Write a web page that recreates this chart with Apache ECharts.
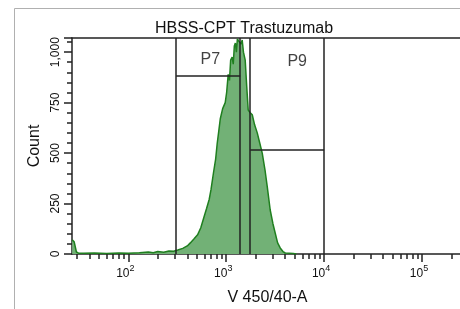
<!DOCTYPE html>
<html>
<head>
<meta charset="utf-8">
<script src="https://cdn.jsdelivr.net/npm/echarts@6/dist/echarts.min.js"></script>
<style>
  html, body { margin: 0; padding: 0; background: #fff; overflow: hidden; }
  #main { width: 460px; height: 309px; }
</style>
</head>
<body>
<div id="main"></div>
<script>
// histogram (channel value, event count)
var histX = [26.7, 28, 29.5, 31, 35, 45, 60, 80, 100, 130, 160, 180, 200, 230, 260, 290,
  320, 360, 400, 430, 470, 510, 550, 590, 630, 670, 700, 740, 780, 810, 840, 870,
  920, 977, 1010, 1048, 1080, 1110, 1150, 1180, 1210, 1240, 1270, 1300, 1340, 1380,
  1420, 1456, 1500, 1563, 1620, 1678, 1760, 1845, 1950, 2075, 2200, 2333, 2500, 2623,
  2814, 3000, 3164, 3350, 3561, 3800, 4008, 4835, 5200];
var histY = [70, 60, 10, 4, 4, 5, 3, 5, 4, 6, 10, 6, 12, 9, 15, 14,
  20, 28, 40, 55, 75, 95, 130, 180, 225, 270, 320, 400, 470, 550, 610, 670,
  720, 750, 800, 890, 860, 960, 975, 940, 1030, 1045, 1000, 1065, 1055, 1062,
  1040, 1060, 1000, 960, 830, 713, 700, 690, 640, 600, 550, 500, 410, 335,
  218, 150, 104, 55, 30, 12, 5, 3, 0];

// gates: lower/upper channel bounds and the height of the gate bar
var gateNames = ['P7', 'P9'];
var gateLo = [308, 1758];
var gateHi = [1390, 10000];
var gateLevel = [881, 515];
var gateLabelX = [687, 5310];
var gateLabelY = [965, 955];

// the plot runs a little past the right edge of the window
var xMin = 26.6, xMax = 262144;
var yMax = 1070;
var yTicks = [0, 250, 500, 750, 1000];
var decades = [2, 3, 4, 5];

var lg = function (v) { return Math.log10(v); };

// minor log ticks (2..9 x 10^n) inside the range
var minorTicks = [];
for (var e = 1; e <= 5; e++) {
  for (var k = 2; k <= 9; k++) {
    var v = k * Math.pow(10, e);
    if (v > xMin && v < xMax) minorTicks.push(lg(v));
  }
}

var histData = [];
for (var i = 0; i < histX.length; i++) histData.push([lg(histX[i]), histY[i]]);

var gateLines = [];
for (var g = 0; g < gateNames.length; g++) {
  gateLines.push([{ coord: [lg(gateLo[g]), 0] }, { coord: [lg(gateLo[g]), yMax] }]);
  gateLines.push([{ coord: [lg(gateHi[g]), 0] }, { coord: [lg(gateHi[g]), yMax] }]);
  gateLines.push([{ coord: [lg(gateLo[g]), gateLevel[g]] }, { coord: [lg(gateHi[g]), gateLevel[g]] }]);
}
var gateLabels = [];
for (var g = 0; g < gateNames.length; g++) {
  gateLabels.push({ name: gateNames[g], value: [lg(gateLabelX[g]), gateLabelY[g]] });
}

var font = 'Liberation Sans, Arial, sans-serif';
var axisCol = '#222';

var option = {
  animation: false,
  backgroundColor: '#fff',
  textStyle: { fontFamily: font },
  title: {
    text: 'HBSS-CPT Trastuzumab',
    left: 244, top: 21, textAlign: 'center', padding: 0,
    textStyle: { fontSize: 16, fontWeight: 'normal', color: '#111', fontFamily: font }
  },
  // light frame around the whole panel (only its top and left edges are in view)
  graphic: [{
    type: 'line', silent: true,
    shape: { x1: 14.5, y1: 8.5, x2: 470, y2: 8.5 },
    style: { stroke: '#b0b0b0', lineWidth: 1 }
  }, {
    type: 'line', silent: true,
    shape: { x1: 14.5, y1: 8.5, x2: 14.5, y2: 320 },
    style: { stroke: '#b0b0b0', lineWidth: 1 }
  }],
  grid: {
    left: 72, top: 38, right: -3, bottom: 55,
    show: false, outerBoundsMode: 'none'
  },
  xAxis: [{
    type: 'value', min: lg(xMin), max: lg(xMax), position: 'bottom',
    name: 'V 450/40-A', nameLocation: 'middle', nameGap: 36,
    nameTextStyle: { fontSize: 16, color: '#111', fontFamily: font },
    axisLine: { show: true, lineStyle: { color: axisCol, width: 1.5 } },
    axisTick: { show: true, length: 8, customValues: decades, lineStyle: { color: axisCol, width: 1.5 } },
    axisLabel: {
      show: true, customValues: decades, margin: 10, fontSize: 12, color: '#111',
      lineHeight: 20, padding: [0, 6, 0, 0],
      formatter: function (v) { return '10{s|' + Math.round(v) + '}'; },
      rich: { s: { fontSize: 9, verticalAlign: 'top', lineHeight: 8, color: '#111' } }
    },
    splitLine: { show: false }
  }, {
    type: 'value', min: lg(xMin), max: lg(xMax), position: 'bottom', gridIndex: 0,
    axisLine: { show: false },
    axisTick: { show: true, length: 5, customValues: minorTicks, lineStyle: { color: axisCol, width: 1.5 } },
    axisLabel: { show: false },
    splitLine: { show: false }
  }, {
    type: 'value', min: lg(xMin), max: lg(xMax), position: 'top', gridIndex: 0,
    axisLine: { show: true, lineStyle: { color: axisCol, width: 1.5 } },
    axisTick: { show: false },
    axisLabel: { show: false },
    splitLine: { show: false }
  }],
  yAxis: {
    type: 'value', min: 0, max: yMax, interval: 250,
    name: 'Count', nameLocation: 'middle', nameGap: 22, nameRotate: 90,
    nameTextStyle: { fontSize: 16, color: '#111', fontFamily: font },
    axisLine: { show: true, lineStyle: { color: axisCol, width: 1.5 } },
    axisTick: { show: true, length: 8, lineStyle: { color: axisCol, width: 1.5 } },
    minorTick: { show: true, splitNumber: 5, length: 5, lineStyle: { color: axisCol, width: 1.5 } },
    axisLabel: {
      rotate: 90, margin: 10, fontSize: 12, color: '#111',
      customValues: yTicks,
      formatter: function (v) { return v.toLocaleString('en-US'); }
    },
    splitLine: { show: false }
  },
  series: [{
    type: 'line', data: histData, symbol: 'none', smooth: false,
    lineStyle: { color: '#1f7f1f', width: 1.5 },
    areaStyle: { color: '#72b176', opacity: 1 },
    z: 2
  }, {
    type: 'scatter', data: gateLabels, symbolSize: 0, silent: true, z: 4,
    label: {
      show: true, position: 'inside', formatter: '{b}',
      fontSize: 16, color: '#111', fontFamily: font
    },
    markLine: {
      silent: true, symbol: ['none', 'none'], label: { show: false },
      lineStyle: { color: axisCol, width: 1.5, type: 'solid' },
      data: gateLines
    }
  }]
};

var chart = echarts.init(document.getElementById('main'));
chart.setOption(option);
</script>
</body>
</html>
